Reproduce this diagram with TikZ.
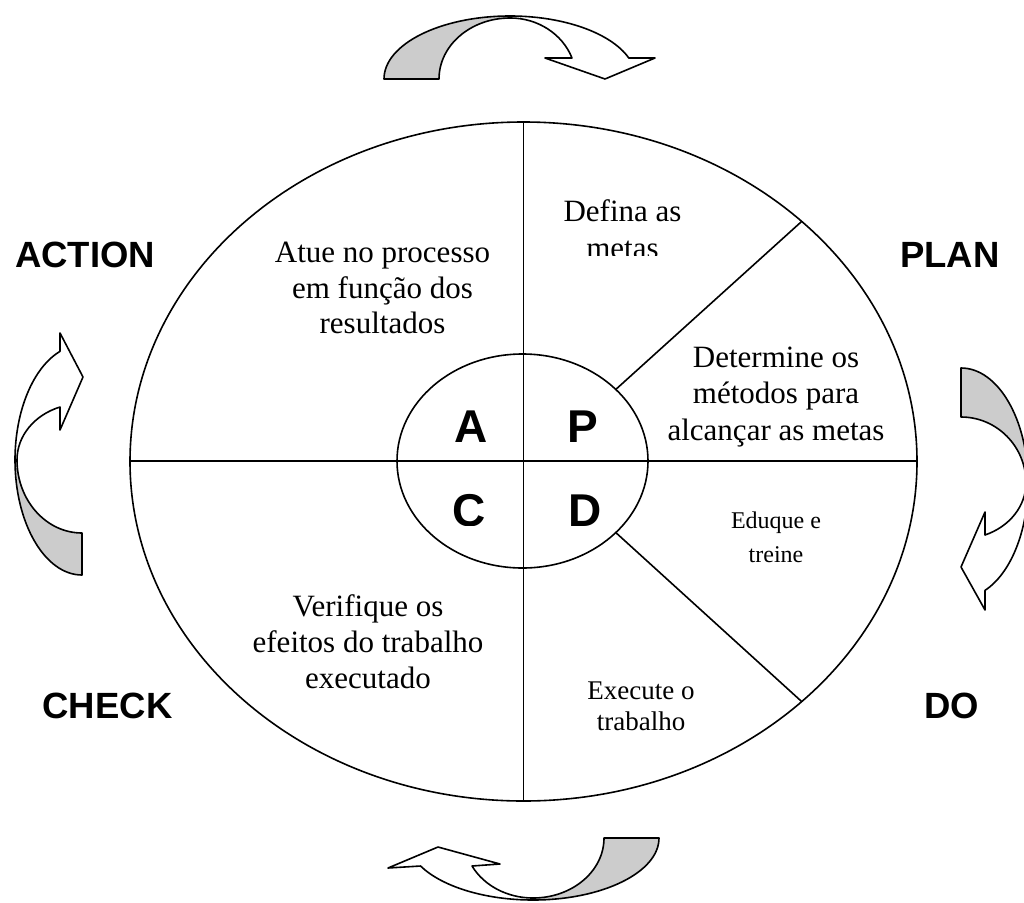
\documentclass[tikz,border=0pt]{standalone}
\usepackage{fontspec}
\setmainfont{Liberation Serif}
\newfontfamily\arialfont{Liberation Sans}
\begin{document}
\begin{tikzpicture}[x=1pt,y=-1pt,
  txt/.style={font=\fontsize{31}{36}\selectfont, inner sep=0pt, anchor=base},
  smalltxt/.style={font=\fontsize{24}{30}\selectfont, inner sep=0pt, anchor=base},
  midtxt/.style={font=\fontsize{27}{30}\selectfont, inner sep=0pt, anchor=base},
  lbl/.style={font=\arialfont\bfseries\fontsize{36.5}{40}\selectfont, inner sep=0pt, anchor=base},
  letter/.style={font=\arialfont\bfseries\fontsize{46}{50}\selectfont, inner sep=0pt, anchor=base},
  ln/.style={line width=1.6pt},
  arr/.style={line width=1.6pt, line join=round, fill=white},
  back/.style={line width=1.6pt, line join=round, fill=black!20}]
\useasboundingbox (0,0) rectangle (1024,902);
\fill[white] (0,0) rectangle (1024,902);
\clip (0,0) rectangle (1024,902);

% main ellipse and inner ellipse
\coordinate (C) at (523.5,461.5);
\coordinate (c) at (522.5,461);
\coordinate (top) at (523.5,122);
\coordinate (bot) at (523.5,801);
\coordinate (lft) at (130,461);
\coordinate (rgt) at (917,461);
\coordinate (i1) at (615.8,389.4);
\coordinate (o1) at (801.7,221.4);
\coordinate (i2) at (615.8,532.6);
\coordinate (o2) at (801.7,701.6);
\draw[ln] (C) ellipse [x radius=393.5, y radius=339.5];
\draw[ln] (top) -- (bot);
\draw[ln] (lft) -- (rgt);
\draw[ln] (c) ellipse [x radius=125.5, y radius=107];
\draw[ln] (i1) -- (o1);
\draw[ln] (i2) -- (o2);

% texts
\node[txt] (d1) at (622.5,221) {Defina as};
\begin{scope}
  \clip (540,230) rectangle (710,255);
  \node[txt] (d2) at (622.5,258) {metas};
\end{scope}
\node[txt] (a1) at (382.5,262) {Atue no processo};
\node[txt] (a2) at (382.5,298) {em função dos};
\node[txt] (a3) at (382.5,333) {resultados};
\node[txt] (m1) at (776,367) {Determine os};
\node[txt] (m2) at (776,403) {métodos para};
\node[txt] (m3) at (776,440) {alcançar as metas};
\node[smalltxt] (e1) at (776,528) {Eduque e};
\node[smalltxt] (e2) at (776,562) {treine};
\node[txt] (v1) at (368,616) {Verifique os};
\node[txt] (v2) at (368,652) {efeitos do trabalho};
\node[txt] (v3) at (368,688) {executado};
\node[midtxt] (x1) at (641,699) {Execute o};
\node[midtxt] (x2) at (641,730) {trabalho};

% labels
\node[lbl] (action) at (85,267) {ACTION};
\node[lbl] (plan) at (950,267) {PLAN};
\node[lbl] (check) at (107.5,718) {CHECK};
\node[lbl] (do) at (951.5,718) {DO};

% letters
\node[letter] (A) at (471.5,442) {A};
\node[letter] (P) at (583,442) {P};
\begin{scope}
  \clip (430,470) rectangle (620,525);
  \node[letter] (Cl) at (469,526) {C};
  \node[letter] (Dl) at (585.5,526) {D};
\end{scope}

% top curved arrow
\draw[back] (384,79) arc[start angle=180, end angle=270, x radius=126, y radius=63]
  -- (510,18) arc[start angle=270, end angle=180, x radius=71, y radius=61] -- cycle;
\draw[arr] (510,16) arc[start angle=270, end angle=340.5, x radius=126, y radius=63]
  -- (655,58) -- (605,79) -- (545,58) -- (572,58)
  arc[start angle=339.9, end angle=270, x radius=66, y radius=61] -- cycle;

% bottom curved arrow
\draw[back] (659,838) arc[start angle=0, end angle=90, x radius=126, y radius=62]
  -- (533,898) arc[start angle=90, end angle=0, x radius=71, y radius=60] -- cycle;
\draw[arr] (533,900) arc[start angle=90, end angle=153.15, x radius=126, y radius=62]
  -- (388,868) -- (438,847) -- (500,864) -- (472,866)
  arc[start angle=152.2, end angle=90, x radius=69, y radius=60] -- cycle;

% left curved arrow
\draw[back] (82,575) arc[start angle=90, end angle=180, x radius=67, y radius=115]
  -- (17,460) arc[start angle=180, end angle=90, x radius=65, y radius=73] -- cycle;
\draw[arr] (15,460) arc[start angle=180, end angle=250.8, x radius=67, y radius=115]
  -- (60,333) -- (83,377) -- (60,430) -- (60,407)
  arc[start angle=250.2, end angle=180, x radius=65, y radius=56] -- cycle;

% right curved arrow
\draw[back] (961,368) arc[start angle=270, end angle=360, x radius=67, y radius=115]
  -- (1026,483) arc[start angle=360, end angle=270, x radius=65, y radius=66] -- cycle;
\draw[arr] (1028,483) arc[start angle=0, end angle=69, x radius=67, y radius=115]
  -- (985,610) -- (961,567) -- (985,512) -- (985,535)
  arc[start angle=68.3, end angle=0, x radius=65, y radius=56] -- cycle;
\end{tikzpicture}
\end{document}
